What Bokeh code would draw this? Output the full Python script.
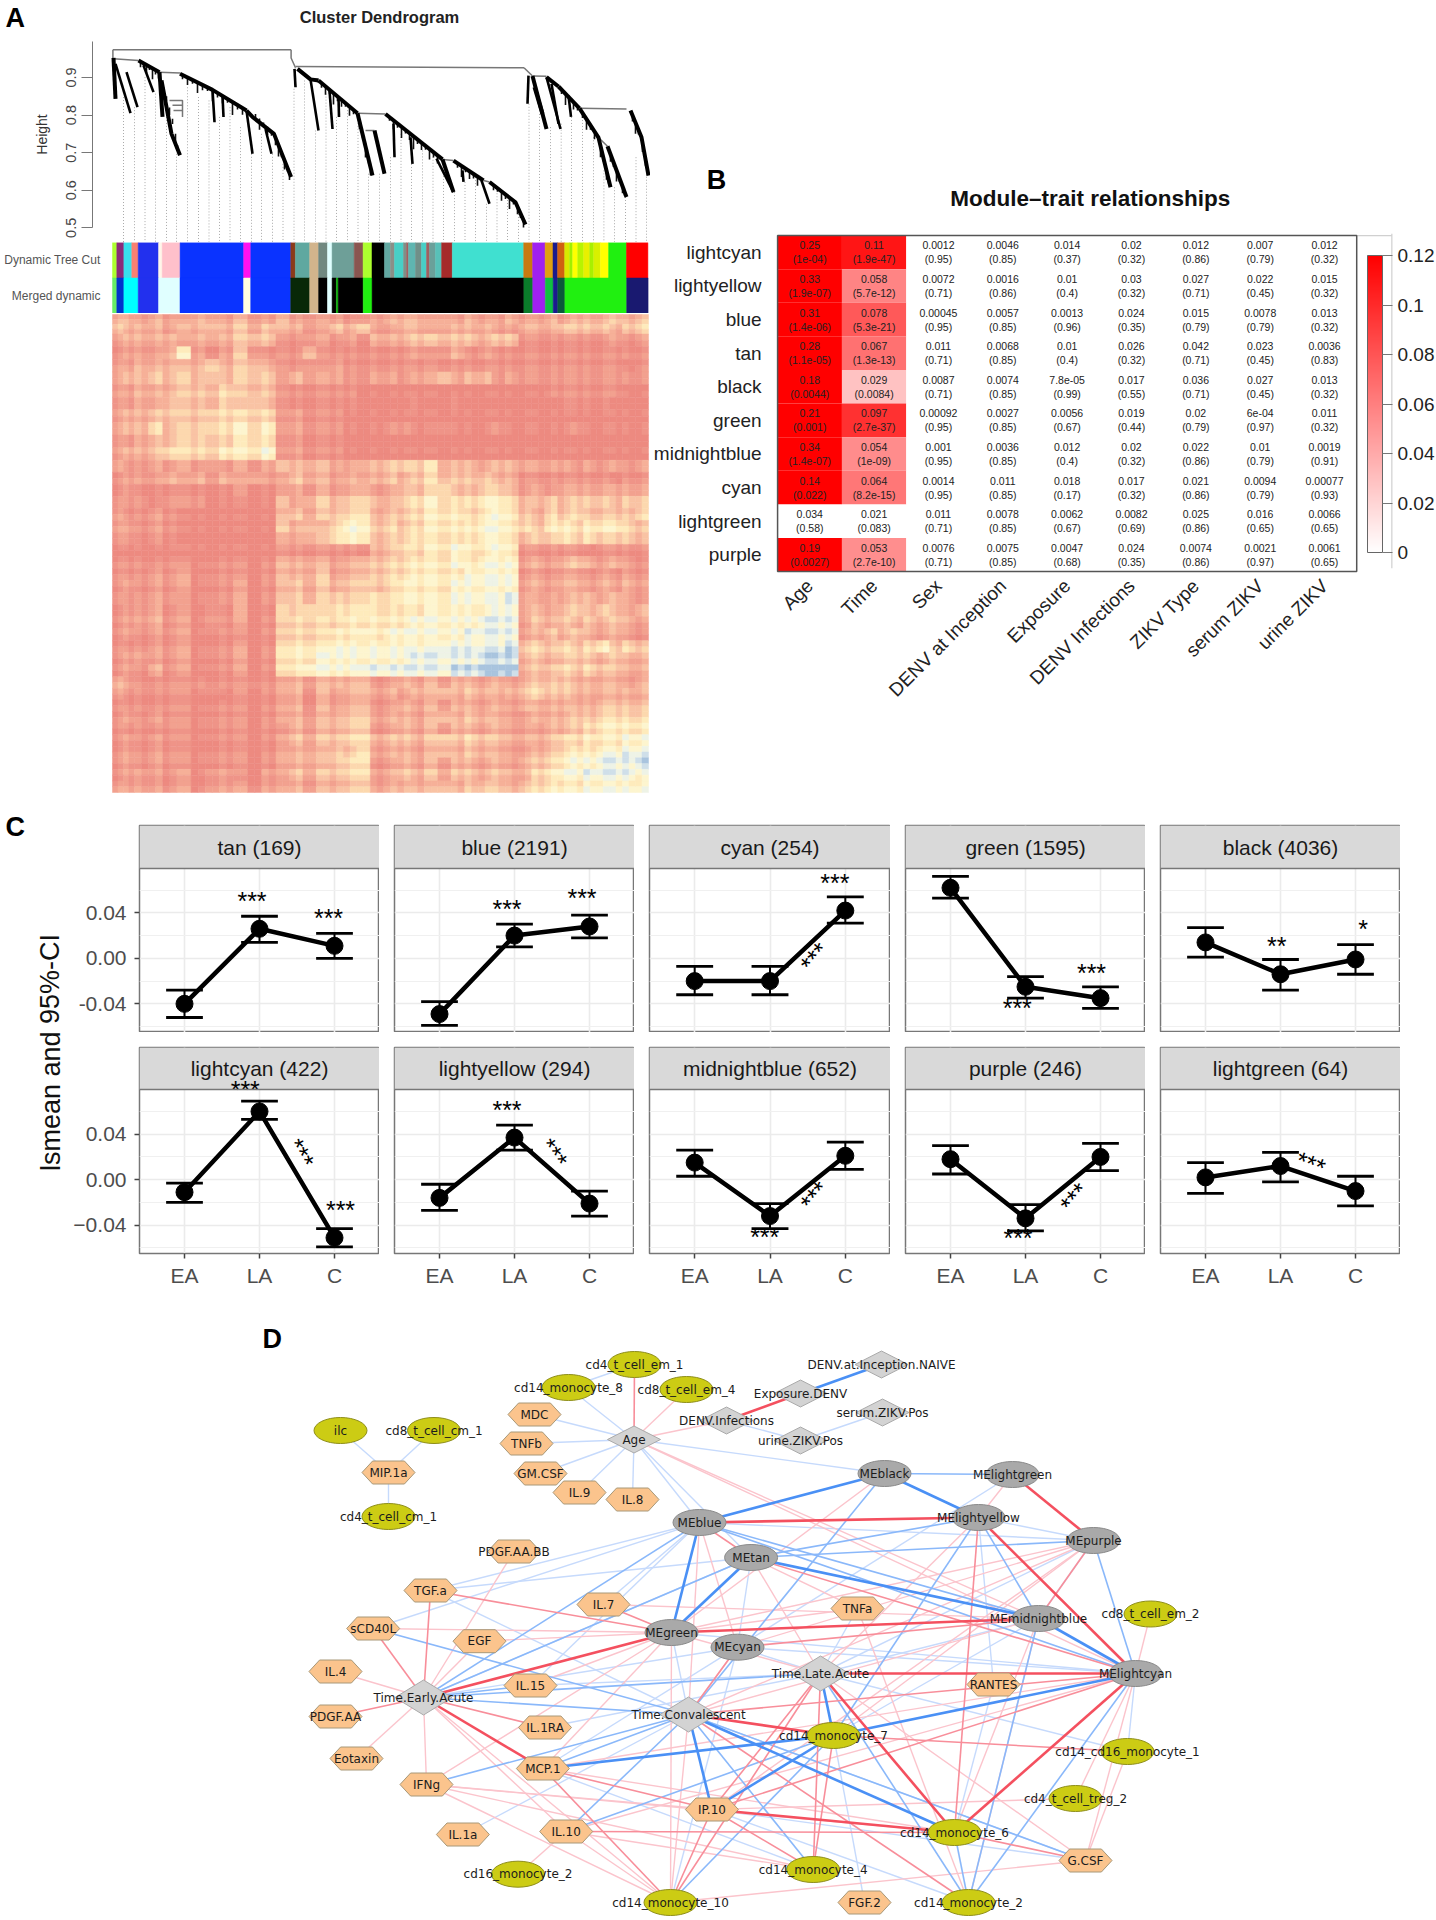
from math import radians, sin, cos
from bokeh.plotting import figure
from bokeh.layouts import column, row
from bokeh.embed import file_html
from bokeh.resources import INLINE
from bokeh.core.properties import value
from bokeh.models import (ColorBar, FixedTicker, LinearColorMapper, Range1d, Span, ColumnDataSource)
from bokeh.transform import transform

HELV = value("Liberation Sans")

# ---------------------------- A: dendrogram data (leaf position, height)
tree_thick_x = [
    [1, 3], [26, 47], [47, 50], [49, 59, 67.5], [67.5, 100, 134], [134, 140, 161.5, 178.6],
    [185, 198, 206], [206, 245], [245, 260], [262, 272], [273, 330], [341, 371], [377, 403, 413],
    [330, 341], [420, 434], [446, 467], [467, 486, 498], [495, 514], [518, 529, 536],
    [434, 446], [422, 430],
]
tree_thick_y = [
    [0.952, 0.843], [0.945, 0.914], [0.914, 0.795], [0.892, 0.750, 0.693], [0.910, 0.867, 0.812],
    [0.812, 0.795, 0.750, 0.635], [0.923, 0.895, 0.892], [0.892, 0.805], [0.805, 0.639], [0.759, 0.644],
    [0.803, 0.682], [0.679, 0.626], [0.622, 0.568, 0.509], [0.682, 0.595], [0.904, 0.763], [0.876, 0.818],
    [0.818, 0.740, 0.608], [0.717, 0.582], [0.812, 0.741, 0.639], [0.901, 0.876], [0.874, 0.803],
]
tree_side_x = [
    [3, 18], [14, 25], [31, 41], [100, 102], [110, 111], [134, 140], [153, 159], [182, 183], [217, 220],
    [226, 226.5], [281, 282], [298, 300], [324, 341], [350, 351], [369, 377], [416, 415], [434, 448],
    [456, 458.5], [198, 206], [439, 446],
]
tree_side_y = [
    [0.936, 0.805], [0.914, 0.821], [0.932, 0.861], [0.867, 0.781], [0.852, 0.795], [0.812, 0.697], [0.763, 0.697],
    [0.923, 0.874], [0.865, 0.763], [0.848, 0.795], [0.777, 0.688], [0.741, 0.670], [0.684, 0.595], [0.653, 0.622],
    [0.626, 0.564], [0.905, 0.830], [0.901, 0.763], [0.852, 0.795], [0.895, 0.759], [0.883, 0.777],
]
tree_link_x = [
    [0.4, 178.6], [0.4, 0.4, 1], [178.6, 178.6, 183], [183, 411.5], [411.5, 420], [1, 26], [47, 67.5], [57, 70, 70],
    [60, 70], [61, 70], [198, 206], [245, 273], [253, 262], [330, 341], [371, 377], [420, 434], [467, 514], [486, 495],
]
tree_link_y = [
    [0.974, 0.974], [0.974, 0.952, 0.952], [0.974, 0.952, 0.926], [0.929, 0.926], [0.926, 0.904], [0.950, 0.945],
    [0.914, 0.912], [0.839, 0.839, 0.795], [0.826, 0.826], [0.812, 0.812], [0.895, 0.895], [0.805, 0.803],
    [0.759, 0.759], [0.682, 0.679], [0.626, 0.622], [0.904, 0.903], [0.818, 0.816], [0.740, 0.717],
]
twig_x = [28, 31, 34, 37, 40, 43, 46, 51, 54, 57, 60, 63, 65, 70, 75, 80, 85, 90, 95, 100, 105, 110, 115, 120, 125, 130,
          143, 147, 151, 155, 159, 163, 166, 169, 172, 175, 177, 209, 213, 217, 221, 225, 229, 233, 237, 241, 247, 250,
          253, 256, 258, 277, 281, 285, 289, 293, 297, 301, 305, 309, 313, 317, 321, 325, 345, 349, 353, 357, 361, 365,
          381, 385, 389, 393, 397, 401, 405, 408, 411, 449, 453, 457, 461, 465, 470, 474, 478, 482, 488, 491, 494, 496,
          498, 501, 504, 507, 510, 512, 520, 523, 526, 530, 533]
twig_top = [.942, .938, .934, .93, .925, .92, .915, .875, .85, .82, .79, .75, .72, .907, .9, .893, .887, .88, .874, .867,
            .859, .851, .843, .835, .827, .819, .803, .791, .78, .769, .757, .74, .72, .70, .68, .66, .645, .885, .876,
            .867, .858, .849, .84, .832, .823, .814, .783, .75, .717, .683, .66, .795, .786, .778, .769, .761, .752,
            .744, .735, .727, .718, .71, .701, .693, .672, .665, .658, .65, .643, .636, .614, .606, .597, .589, .58,
            .572, .556, .538, .521, .868, .857, .846, .835, .824, .806, .789, .773, .756, .718, .685, .652, .63, .696,
            .674, .653, .632, .61, .596, .799, .78, .76, .727, .683]
twig_len = [.015, .008, .022, .01, .03, .012, .018, .03, .012, .02, .014, .026, .01, .012, .02, .01, .028, .014, .01, .03,
            .012, .02, .01, .035, .012, .018, .014, .03, .01, .022, .012, .02, .03, .012, .025, .01, .018, .012, .022,
            .01, .03, .012, .018, .01, .025, .012, .02, .01, .03, .012, .02, .01, .024, .012, .03, .01, .018, .035, .012,
            .02, .01, .028, .014, .022, .012, .03, .01, .02, .012, .024, .014, .01, .025, .012, .03, .01, .02, .012, .02,
            .012, .03, .01, .02, .012, .014, .028, .012, .02, .03, .01, .024, .012, .02, .012, .03, .01, .018, .01, .016,
            .03, .012, .025, .018]
guide_x = [11, 22, 32.5, 43, 54, 64, 75, 86, 96.5, 107, 117.5, 128, 139, 149, 160, 170.5, 181.5, 192, 203, 213.5,
           224, 235, 245.5, 256, 267, 278, 288.5, 299, 310, 320.5, 331, 342, 352.5, 363, 374, 384.5, 395, 406, 416.5,
           427, 438, 448.7, 459, 470, 481, 491.4, 502, 513, 523.5, 534]
guide_top = [.848, .821, .901, .857, .795, .697, .874, .848, .839, .795, .821, .768, .697, .75, .697, .67, .87, .892,
             .759, .857, .795, .821, .803, .644, .644, .688, .75, .67, .706, .697, .662, .595, .622, .635, .564, .6,
             .582, .537, .83, .803, .768, .777, .795, .795, .741, .653, .608, .582, .688, .644]
height_ticks = [0.5, 0.6, 0.7, 0.8, 0.9]

dynamic_widths = [4.3, 7.1, 7.9, 6.4, 20.4, 3.6, 17.9, 63.6, 7.1, 40, 4.6, 14.3, 8.9, 8.9, 4.6, 22.1, 8.9, 8.9, 12.5,
                  6, 4, 9, 3, 2, 7, 6, 5, 3, 6, 6.1, 10.7, 71.4, 8.9, 12.5, 7.9, 4.6, 7.1,
                  5, 3, 5, 6, 6, 4, 6.7, 8.2, 17.9, 21.4]
dynamic_colors = ["#adff2f", "#8b2a7a", "#38e0ee", "#fa8072", "#2230ee", "#fff6ea", "#ffc0cb", "#0a33ff", "#ff10f0",
                  "#0a33ff", "#8b3a1a", "#5fa8a0", "#d2b48c", "#708880", "#e0ffff", "#6e9f98", "#8a5550", "#adff2f",
                  "#000000", "#62a8a2", "#8a8f88", "#48cfc6", "#7f8f88", "#a06060", "#5fb5b0", "#708f88", "#48cfc6",
                  "#a06060", "#6aa09a", "#58c0b8", "#a52a2a", "#40e0d0", "#c87a10", "#a020f0", "#e0a010", "#1a1a8c",
                  "#d06010", "#d8e800", "#a0f000", "#ffff00", "#b8f400", "#e8f000", "#a8f000", "#d8f000", "#ffff00",
                  "#20f010", "#ff0000"]
merged_widths = [4.3, 7.1, 14.3, 20.4, 21.4, 63.6, 7.1, 40, 19, 8.9, 8.9, 4.6, 4.3, 1.8, 25, 8.9, 151.8, 8.9, 12.5,
                 7.9, 4.6, 7.1, 61.8, 21.4]
merged_colors = ["#66ee66", "#0033cc", "#00ffff", "#2230ee", "#e0ffff", "#0a33ff", "#ffffe0", "#0a33ff", "#082808",
                 "#d2b48c", "#000000", "#e0ffff", "#000000", "#10c010", "#000000", "#20f010", "#000000", "#0a7a2a",
                 "#a020f0", "#10c040", "#1a1a8c", "#0a5a3a", "#20f010", "#191970"]

tom_levels = """
33 2322332322 3222212 23332323223 2232333434
43 3323343434 3322435 22332333322 3334444345
23 3332333444 1122121 33344444344 1111111212
12 2236212421 1141111 11121231211 1111111111
22 3333353443 1121211 11111111111 1111111101
23 3434343444 1322211 22122423312 1111111111
22 3334445444 1111110 00000000000 0011111100
22 3344445454 1111110 00010010000 0001111000
23 3444455555 1211100 00000000000 0000000000
23 3534455656 1211100 01100100010 0000100000
22 3445555666 1211100 00000000000 0000000000
23 3455556667 1211100 00000000000 0000000000
21 1212121212 3333223 34445333233 2222121212
12 2232323232 2433233 34345444433 1111111011
12 1111111211 2323234 23445644554 2323333333
11 1011100000 3234345 33456555665 3343444344
21 1210000000 3434456 34456665676 4354544445
22 1210000000 4343577 45456666776 5466566654
22 1210000000 3344677 45566666776 4556565554
00 0000000000 1111111 34556676676 1111101111
11 1111011101 3333234 45566676777 2323432321
11 1212011101 3334234 45566667777 1212212121
12 1212011201 3434345 45666677777 2323323232
11 1211011201 3434445 55666677778 2222332321
12 2312021301 5565667 66667777788 3434545434
12 2312021201 4555566 66677777888 2434343432
12 1212011101 4555667 67777778888 2343432321
11 1212011201 5666777 77777888889 4545456454
12 2212011201 5667777 77788888999 3434443433
12 1312011201 5677778 88888899aaa 3445454433
32 1111111111 2323334 12323233232 3444333323
21 1111010101 2313234 23233434333 4544333333
11 1111011101 2313234 12323233232 3333334444
12 1211011101 2323345 23323434332 2333445555
11 1111011101 1323345 12323233232 2233456666
12 1211011101 2434456 34434545443 3345566677
12 1211011101 2333446 23323434332 2345667788
12 1211011101 2333456 12323233232 3456778889
12 2212022102 2434456 23434344343 3567788887
22 2212022212 2323345 23333434443 4566677777
"""
tom_stripes = "0110100101 1101001011 0010110100 1101010010 0101101100 1010011010 0110010110 1001101001"
tom_palette = ["#ed8a80", "#ef9488", "#f2a18f", "#f6b098", "#f9c3a4", "#fcd8ae", "#feebbc", "#fdf5cf", "#eef3e6",
               "#cfdfe9", "#a9c4de"]

# ---------------------------- B: module-trait table
modules = ["lightcyan", "lightyellow", "blue", "tan", "black", "green", "midnightblue", "cyan", "lightgreen", "purple"]
traits = ["Age", "Time", "Sex", "DENV at Inception", "Exposure", "DENV Infections", "ZIKV Type", "serum ZIKV", "urine ZIKV"]
cell_values = [
    ["0.25", "0.33", "0.31", "0.28", "0.18", "0.21", "0.34", "0.14", "0.034", "0.19"],
    ["0.11", "0.058", "0.078", "0.067", "0.029", "0.097", "0.054", "0.064", "0.021", "0.053"],
    ["0.0012", "0.0072", "0.00045", "0.011", "0.0087", "0.00092", "0.001", "0.0014", "0.011", "0.0076"],
    ["0.0046", "0.0016", "0.0057", "0.0068", "0.0074", "0.0027", "0.0036", "0.011", "0.0078", "0.0075"],
    ["0.014", "0.01", "0.0013", "0.01", "7.8e-05", "0.0056", "0.012", "0.018", "0.0062", "0.0047"],
    ["0.02", "0.03", "0.024", "0.026", "0.017", "0.019", "0.02", "0.017", "0.0082", "0.024"],
    ["0.012", "0.027", "0.015", "0.042", "0.036", "0.02", "0.022", "0.021", "0.025", "0.0074"],
    ["0.007", "0.022", "0.0078", "0.023", "0.027", "6e-04", "0.01", "0.0094", "0.016", "0.0021"],
    ["0.012", "0.015", "0.013", "0.0036", "0.013", "0.011", "0.0019", "0.00077", "0.0066", "0.0061"],
]
cell_pvalues = [
    ["1e-04", "1.9e-07", "1.4e-06", "1.1e-05", "0.0044", "0.001", "1.4e-07", "0.022", "0.58", "0.0027"],
    ["1.9e-47", "5.7e-12", "5.3e-21", "1.3e-13", "0.0084", "2.7e-37", "1e-09", "8.2e-15", "0.083", "2.7e-10"],
    ["0.95", "0.71", "0.95", "0.71", "0.71", "0.95", "0.95", "0.95", "0.71", "0.71"],
    ["0.85", "0.86", "0.85", "0.85", "0.85", "0.85", "0.85", "0.85", "0.85", "0.85"],
    ["0.37", "0.4", "0.96", "0.4", "0.99", "0.67", "0.4", "0.17", "0.67", "0.68"],
    ["0.32", "0.32", "0.35", "0.32", "0.55", "0.44", "0.32", "0.32", "0.69", "0.35"],
    ["0.86", "0.71", "0.79", "0.71", "0.71", "0.79", "0.86", "0.86", "0.86", "0.86"],
    ["0.79", "0.45", "0.79", "0.45", "0.45", "0.97", "0.79", "0.79", "0.65", "0.97"],
    ["0.32", "0.32", "0.32", "0.83", "0.32", "0.32", "0.91", "0.93", "0.65", "0.65"],
]
colorbar_ticks = [0, 0.02, 0.04, 0.06, 0.08, 0.1, 0.12]

# ---------------------------- C: lsmeans
facet_titles = ["tan (169)", "blue (2191)", "cyan (254)", "green (1595)", "black (4036)",
                "lightcyan (422)", "lightyellow (294)", "midnightblue (652)", "purple (246)", "lightgreen (64)"]
time_labels = ["EA", "LA", "C"]
lsmean = [[-.040, .026, .011], [-.049, .020, .028], [-.020, -.020, .042], [.062, -.025, -.035], [.014, -.014, -.001],
          [-.011, .060, -.051], [-.016, .037, -.021], [.015, -.032, .021], [.018, -.034, .020], [.002, .012, -.010]]
ci_low = [[-.052, .014, .000], [-.059, .010, .018], [-.032, -.032, .031], [.053, -.035, -.044], [.001, -.028, -.014],
          [-.020, .053, -.059], [-.027, .026, -.032], [.003, -.043, .009], [.005, -.045, .008], [-.012, -.002, -.023]]
ci_high = [[-.028, .037, .022], [-.038, .030, .038], [-.007, -.007, .054], [.072, -.016, -.025], [.027, -.001, .012],
           [-.003, .069, -.043], [-.004, .048, -.010], [.026, -.021, .033], [.030, -.022, .032], [.015, .024, .003]]
star_panel = [0, 0, 1, 1, 2, 2, 3, 3, 4, 4, 5, 5, 5, 6, 6, 7, 7, 8, 8, 9]
star_text = ["***", "***", "***", "***", "***", "***", "***", "***", "**", "*", "***", "***", "***", "***", "***",
             "***", "***", "***", "***", "***"]
star_x = [1.9, 2.92, 1.9, 2.9, 2.86, 2.53, 1.89, 2.88, 1.95, 3.1, 1.81, 2.62, 3.08, 1.9, 2.59, 1.93, 2.53, 1.9, 2.59, 2.43]
star_y = [.0557, .0404, .0487, .058, .0718, .0044, -.0381, -.0073, .0161, .0314, .0844, .0258, -.0217, .0662, .0264,
          -.0448, -.0108, -.046, -.0123, .019]
star_angle = [0, 0, 0, 0, 0, 50, 0, 0, 0, 0, 0, -60, 0, 0, -55, 0, 50, 0, 50, -20]

# ---------------------------- D: network nodes and edges
hex_nodes = {"MDC": (534, 1414), "TNFb": (526, 1443), "GM.CSF": (540, 1473), "IL.9": (579, 1492), "IL.8": (632, 1499),
             "MIP.1a": (388, 1472), "PDGF.AA.BB": (513.5, 1551), "TGF.a": (430, 1590), "IL.7": (603, 1604),
             "TNFa": (857, 1608), "sCD40L": (372.7, 1628), "EGF": (479, 1640.7), "IL.4": (335, 1671),
             "IL.15": (530, 1685), "PDGF.AA": (335, 1716), "IL.1RA": (544.5, 1727), "Eotaxin": (356, 1758),
             "MCP.1": (542.4, 1768), "IFNg": (426, 1784), "IL.1a": (462.4, 1834), "IL.10": (565.7, 1831),
             "IP.10": (711.4, 1809), "RANTES": (993, 1684), "G.CSF": (1085, 1860), "FGF.2": (864, 1902)}
cell_nodes = {"cd4_t_cell_em_1": (634, 1364), "cd14_monocyte_8": (568, 1387), "cd8_t_cell_em_4": (686, 1389),
              "ilc": (340, 1430), "cd8_t_cell_cm_1": (433.5, 1430), "cd4_t_cell_cm_1": (388, 1516),
              "cd8_t_cell_em_2": (1150, 1613.5), "cd14_monocyte_7": (833, 1735), "cd14_cd16_monocyte_1": (1127, 1751),
              "cd4_t_cell_treg_2": (1075, 1798), "cd14_monocyte_6": (954, 1832), "cd14_monocyte_4": (812.7, 1869),
              "cd14_monocyte_2": (968, 1902), "cd16_monocyte_2": (517.5, 1873.7), "cd14_monocyte_10": (670, 1902)}
module_nodes = {"MEblack": (884, 1473), "MElightgreen": (1012, 1474), "MElightyellow": (978, 1517),
                "MEpurple": (1093, 1540), "MEblue": (699, 1522), "MEtan": (750.6, 1557),
                "MEmidnightblue": (1038, 1618), "MElightcyan": (1135, 1673), "MEgreen": (671, 1632), "MEcyan": (737, 1646.7)}
trait_nodes = {"Age": (633.5, 1439), "DENV.Infections": (726, 1420), "Exposure.DENV": (800, 1393),
               "urine.ZIKV.Pos": (800, 1440), "DENV.at.Inception.NAIVE": (881, 1364), "serum.ZIKV.Pos": (882, 1412)}
time_nodes = {"Time.Early.Acute": (423, 1697), "Time.Late.Acute": (820, 1673), "Time.Convalescent": (688, 1714)}

blue_edges = {
    1: "cd14_monocyte_8|cd4_t_cell_em_1 cd14_monocyte_8|Age MDC|Age TNFb|Age GM.CSF|Age IL.9|Age IL.8|Age "
       "DENV.Infections|urine.ZIKV.Pos urine.ZIKV.Pos|serum.ZIKV.Pos ilc|MIP.1a cd8_t_cell_cm_1|MIP.1a MIP.1a|cd4_t_cell_cm_1 "
       "Age|MEblue Age|MEblack Age|MEtan MEblue|TGF.a MEblue|sCD40L MEblue|MEpurple MEblue|IL.7 MEblue|IL.15 "
       "MEtan|TGF.a MEtan|MEcyan MEtan|Time.Early.Acute MElightgreen|MEcyan MElightyellow|MEpurple MElightyellow|RANTES "
       "MEpurple|Time.Late.Acute MEpurple|MEmidnightblue MEmidnightblue|Time.Late.Acute MEmidnightblue|cd14_monocyte_7 "
       "MElightcyan|MEgreen MElightcyan|MEcyan MElightcyan|cd14_cd16_monocyte_1 Time.Late.Acute|MEcyan "
       "Time.Late.Acute|cd14_cd16_monocyte_1 Time.Late.Acute|IL.15 Time.Late.Acute|IL.1RA Time.Convalescent|MEgreen "
       "Time.Convalescent|G.CSF Time.Early.Acute|MEcyan MEcyan|MCP.1 MEcyan|cd14_monocyte_10 MCP.1|cd14_monocyte_4 "
       "IP.10|cd14_monocyte_2 IP.10|G.CSF cd14_monocyte_7|FGF.2 RANTES|cd14_monocyte_6 TGF.a|Time.Convalescent "
       "IL.1a|Time.Convalescent TNFa|Time.Late.Acute",
    2: "MEblue|Time.Early.Acute MEblue|MEmidnightblue MEblue|MElightcyan MEtan|MElightyellow MEtan|MEpurple "
       "MEblack|MElightgreen MEblack|Time.Convalescent MElightyellow|MEmidnightblue MElightyellow|cd14_monocyte_7 "
       "MEpurple|MElightcyan MEmidnightblue|cd14_monocyte_2 MElightcyan|cd14_monocyte_2 Time.Late.Acute|cd14_monocyte_2 "
       "Time.Late.Acute|Time.Early.Acute Time.Convalescent|MCP.1 Time.Convalescent|IFNg Time.Convalescent|IL.10 "
       "Time.Convalescent|cd14_monocyte_4 Time.Convalescent|sCD40L Time.Convalescent|Time.Early.Acute IL.15|Time.Early.Acute "
       "MEtan|Time.Early.Acute IL.10|cd14_monocyte_7 cd14_monocyte_6|cd14_monocyte_2 cd14_monocyte_7|cd14_monocyte_10 "
       "Time.Convalescent|G.CSF",
    3: "Exposure.DENV|DENV.at.Inception.NAIVE MEblue|MEblack MEblue|MEgreen MEtan|MEgreen MEtan|MEmidnightblue "
       "MEblack|MElightyellow MEmidnightblue|MElightcyan MElightcyan|cd14_monocyte_7 Time.Late.Acute|cd14_monocyte_7 "
       "Time.Convalescent|IP.10 Time.Convalescent|cd14_monocyte_6 MCP.1|cd14_monocyte_7 IP.10|cd14_monocyte_7",
}
red_edges = {
    1: "cd8_t_cell_em_4|Age Age|DENV.Infections Age|MEmidnightblue Age|MElightcyan MEblue|MEcyan MEblue|Time.Convalescent "
       "MEtan|Time.Late.Acute MEtan|TNFa MEblack|MEgreen MElightgreen|MElightyellow MElightyellow|Time.Late.Acute "
       "MEpurple|cd14_monocyte_7 MEpurple|Time.Convalescent MEpurple|IP.10 MEpurple|MEgreen MEmidnightblue|cd14_monocyte_6 "
       "MEmidnightblue|Time.Convalescent MEmidnightblue|IL.7 MEmidnightblue|cd14_monocyte_2 cd8_t_cell_em_2|MElightcyan "
       "MElightcyan|cd4_t_cell_treg_2 MElightcyan|G.CSF MElightcyan|MCP.1 MElightcyan|IL.10 Time.Late.Acute|G.CSF "
       "Time.Late.Acute|MEgreen Time.Convalescent|cd14_monocyte_10 Time.Convalescent|MEcyan Time.Early.Acute|IL.4 "
       "Time.Early.Acute|Eotaxin Time.Early.Acute|IFNg Time.Early.Acute|IL.10 Time.Early.Acute|cd14_monocyte_10 "
       "Time.Early.Acute|PDGF.AA.BB Time.Early.Acute|EGF MEgreen|sCD40L MEgreen|MCP.1 MEgreen|IFNg MEgreen|cd14_monocyte_10 "
       "MEgreen|EGF MEgreen|IL.15 MEcyan|MEpurple MCP.1|cd14_monocyte_6 IFNg|IP.10 IFNg|cd14_monocyte_6 IFNg|cd14_monocyte_10 "
       "IFNg|cd14_monocyte_4 IL.10|cd14_monocyte_4 IL.10|cd14_monocyte_10 IL.10|cd16_monocyte_2 cd14_monocyte_10|G.CSF "
       "TNFa|MEgreen TNFa|cd14_monocyte_2 cd4_t_cell_treg_2|IP.10 G.CSF|cd14_cd16_monocyte_1",
    2: "cd4_t_cell_em_1|Age MEblue|MEtan MEtan|MElightcyan MElightyellow|cd14_monocyte_6 MEpurple|MEmidnightblue "
       "MEcyan|MEmidnightblue MElightcyan|Time.Convalescent MElightcyan|IP.10 Time.Late.Acute|IP.10 Time.Late.Acute|cd14_monocyte_10 "
       "Time.Late.Acute|cd14_monocyte_4 Time.Convalescent|cd14_monocyte_2 Time.Early.Acute|sCD40L Time.Early.Acute|TGF.a "
       "Time.Early.Acute|PDGF.AA Time.Early.Acute|IL.1RA MEgreen|TGF.a MEgreen|IL.7 MEcyan|Time.Convalescent MCP.1|IP.10 "
       "MCP.1|cd14_monocyte_10 IL.10|cd14_monocyte_6 IP.10|cd14_monocyte_10 IP.10|cd14_monocyte_4 cd14_monocyte_7|cd14_monocyte_4 "
       "cd14_monocyte_6|G.CSF cd14_cd16_monocyte_1|cd14_monocyte_7",
    3: "DENV.Infections|Exposure.DENV MEblue|MElightyellow MElightgreen|MEpurple MElightyellow|MElightcyan MEmidnightblue|MEgreen "
       "MElightcyan|Time.Late.Acute MElightcyan|cd14_monocyte_6 Time.Late.Acute|cd14_monocyte_6 Time.Convalescent|cd14_monocyte_7 "
       "Time.Early.Acute|MCP.1 Time.Early.Acute|MEgreen IP.10|cd14_monocyte_6",
}
edge_colors = {"blue": {1: "#c6dafc", 2: "#8ab8fa", 3: "#4a90f5"}, "red": {1: "#fbc4cc", 2: "#f88e9a", 3: "#f4505f"}}
edge_widths = {1: 1.4, 2: 1.6, 3: 2.6}


def fig(fw, fh, x_range, y_range, left=0, right=0, top=0, bottom=0):
    p = figure(frame_width=fw, frame_height=fh, x_range=x_range, y_range=y_range, toolbar_location=None,
               output_backend="svg", tools="", min_border_left=left, min_border_right=right, min_border_top=top,
               min_border_bottom=bottom)
    p.outline_line_color = None
    p.grid.visible = False
    return p


def letter(p, text, x, y):
    p.text([x], [y], text=[text], text_font=HELV, text_font_style="bold", text_font_size="27px", text_align="left",
           text_baseline="middle", text_color="#000000")


# ---------------------------- Panel A
dendro = fig(650, 242, Range1d(-112, 538), Range1d(0.461, 1.1048))
dendro.xaxis.visible = False
ax = dendro.yaxis[0]
ax.fixed_location = -20
ax.ticker = FixedTicker(ticks=height_ticks)
ax.bounds = (0.5, 0.995)
ax.major_label_orientation = "vertical"
ax.major_label_text_font = "Liberation Sans"
ax.major_label_text_font_size = "14.5px"
ax.major_label_text_color = "#444444"
ax.major_tick_out = 11
ax.major_tick_in = 0
ax.minor_tick_out = 0
ax.minor_tick_in = 0
ax.axis_line_color = "#777777"
ax.major_tick_line_color = "#777777"
ax.axis_label = "Height"
ax.axis_label_text_font = "Liberation Sans"
ax.axis_label_text_font_style = "normal"
ax.axis_label_text_font_size = "14px"
ax.axis_label_text_color = "#333333"
ax.axis_label_standoff = 14
dendro.segment(guide_x, guide_top, guide_x, [0.461] * len(guide_x), line_color="#aaaaaa", line_width=1, line_dash="1 2")
dendro.multi_line(tree_link_x, tree_link_y, line_color="#777777", line_width=1.5)
dendro.segment(twig_x, twig_top, twig_x, [t - l for t, l in zip(twig_top, twig_len)], line_color="#111111", line_width=1.6)
dendro.multi_line(tree_side_x, tree_side_y, line_color="#000000", line_width=2.6)
dendro.multi_line(tree_thick_x, tree_thick_y, line_color="#000000", line_width=4)
letter(dendro, "A", -107, 1.057)
dendro.text([267], [1.06], text=["Cluster Dendrogram"], text_font=HELV, text_font_style="bold", text_font_size="16.5px",
            text_align="center", text_baseline="middle", text_color="#222222")

bands = fig(650, 71, Range1d(-112, 538), Range1d(0, 2))
bands.axis.visible = False
for widths, colors, y0 in ((dynamic_widths, dynamic_colors, 1), (merged_widths, merged_colors, 0)):
    edges = [0.0]
    for w in widths:
        edges.append(edges[-1] + w)
    bands.quad(left=edges[:-1], right=edges[1:], bottom=[y0] * len(widths), top=[y0 + 1] * len(widths),
               fill_color=colors, line_color=colors, line_width=0.5)
bands.text([-12, -12], [1.5, 0.5], text=["Dynamic Tree Cut", "Merged dynamic"], text_font=HELV, text_font_size="12px",
           text_align="right", text_baseline="middle", text_color="#555555")

tom_rows = [r.replace(" ", "") for r in tom_levels.strip().splitlines()]
stripes = [int(c) for c in tom_stripes.replace(" ", "")]
block_edges = [0, .041, .305, .481, .758, 1]
block_cells = [4, 20, 14, 22, 20]
cell_edges = [0.0]
for i, n in enumerate(block_cells):
    for k in range(n):
        cell_edges.append(block_edges[i] + (block_edges[i + 1] - block_edges[i]) * (k + 1) / n)
tl, tr, tt, tb, tc = [], [], [], [], []
for ri in range(80):
    for ci in range(80):
        level = int(tom_rows[ri // 2][ci // 2], 16) - 1 + stripes[ri] + stripes[ci]
        tl.append(cell_edges[ci] * 536)
        tr.append(cell_edges[ci + 1] * 536)
        tt.append(cell_edges[ri])
        tb.append(cell_edges[ri + 1])
        tc.append(tom_palette[max(0, min(10, level))])
tom = fig(650, 492, Range1d(-112, 538), Range1d(1.0272, -0.0021))
tom.axis.visible = False
tom.quad(left=tl, right=tr, top=tt, bottom=tb, fill_color=tc, line_color=tc, line_width=0.5)
panel_a = column(dendro, bands, tom, spacing=0)

# ---------------------------- Panel B
ramp = ["#ff%02x%02x" % (255 - i, 255 - i) for i in range(256)]
mapper = LinearColorMapper(palette=ramp, low=0, high=0.12)
rx, ry, rv, rp, rc = [], [], [], [], []
for ti, (vals, ps) in enumerate(zip(cell_values, cell_pvalues)):
    for mi, (v, pv) in enumerate(zip(vals, ps)):
        rx.append(ti + 0.5)
        ry.append(mi + 0.5)
        rv.append(v)
        rp.append("(" + pv + ")")
        rc.append(float(v) if float(pv) < 0.05 else 0.0)
src = ColumnDataSource(dict(x=rx, y=ry, v=rv, p=rp, c=rc))
heat = fig(786, 805, Range1d(-1.975, 10.24), Range1d(16.96, -6.994))
heat.segment([9.546, 9], [-0.05, 0], [9.546, 9.546], [9.9, 0], line_color="#d0d0d0", line_width=1.2)
heat.rect("x", "y", width=1, height=1, source=src, fill_color=transform("c", mapper), line_color=None)
for col, off in (("v", -7), ("p", 7)):
    heat.text("x", "y", text=col, source=src, text_font=HELV, text_font_size="10.5px", text_align="center",
              text_baseline="middle", text_color="#222222", y_offset=off)
heat.quad(left=[0], right=[9], top=[0], bottom=[10], fill_color=None, line_color="#555555", line_width=1.5)
xa, ya = heat.xaxis[0], heat.yaxis[0]
xa.fixed_location = 10
ya.fixed_location = 0
xa.ticker = FixedTicker(ticks=[i + 0.5 for i in range(len(traits))])
ya.ticker = FixedTicker(ticks=[i + 0.5 for i in range(len(modules))])
xa.major_label_overrides = {i + 0.5: t for i, t in enumerate(traits)}
ya.major_label_overrides = {i + 0.5: m for i, m in enumerate(modules)}
for a in (xa, ya):
    a.axis_line_color = None
    a.major_tick_line_color = None
    a.minor_tick_line_color = None
    a.major_label_text_font = "Liberation Sans"
    a.major_label_text_font_size = "19px"
    a.major_label_text_color = "#222222"
ya.major_label_standoff = 10
xa.major_label_orientation = 0.785
xa.major_label_standoff = 5
cb = ColorBar(color_mapper=mapper, ticker=FixedTicker(ticks=colorbar_ticks), width=15, height=297, location=(717, 253),
              padding=0, margin=0, bar_line_color="#666666", major_tick_line_color="#777777", major_tick_in=0,
              major_tick_out=10, major_label_text_font="Liberation Sans", major_label_text_font_size="19px",
              major_label_text_color="#222222", label_standoff=5, background_fill_color=None, border_line_color=None,
              major_label_overrides={0: "0", 0.02: "0.02", 0.04: "0.04", 0.06: "0.06", 0.08: "0.08", 0.1: "0.1", 0.12: "0.12"})
heat.add_layout(cb, "center")
letter(heat, "B", -1.1, -1.64)
heat.text([4.86], [-1.1], text=["Module\u2013trait relationships"], text_font=HELV, text_font_style="bold",
          text_font_size="22.5px", text_align="center", text_baseline="middle", text_color="#111111")


# ---------------------------- Panel C
def facet(i, fw, fh, left, top, bottom, y0, y1, strip_y, show_y, show_x, minus):
    p = fig(fw, fh, Range1d(0.4, 3.6), Range1d(y0, y1), left=left, top=top, bottom=bottom)
    p.outline_line_color = "#777777"
    p.outline_line_width = 1.5
    p.xgrid.visible = True
    p.ygrid.visible = True
    p.xgrid.ticker = FixedTicker(ticks=[1, 2, 3])
    p.ygrid.ticker = FixedTicker(ticks=[-0.04, 0, 0.04], minor_ticks=[-0.06, -0.02, 0.02, 0.06])
    p.grid.grid_line_color = "#ebebeb"
    p.grid.grid_line_width = 1.6
    p.ygrid.minor_grid_line_color = "#f0f0f0"
    p.ygrid.minor_grid_line_width = 1.0
    p.yaxis.visible = show_y
    p.xaxis.visible = show_x
    if show_y:
        a = p.yaxis[0]
        a.ticker = FixedTicker(ticks=[-0.04, 0, 0.04])
        a.major_label_overrides = {-0.04: minus + "0.04", 0: "0.00", 0.04: "0.04"}
        a.major_label_standoff = 8
    if show_x:
        a = p.xaxis[0]
        a.ticker = FixedTicker(ticks=[1, 2, 3])
        a.major_label_overrides = dict(zip([1, 2, 3], time_labels))
    for a in list(p.yaxis if show_y else []) + list(p.xaxis if show_x else []):
        a.axis_line_color = None
        a.major_tick_line_color = "#444444"
        a.major_tick_line_width = 1.5
        a.major_tick_out = 5
        a.major_tick_in = 0
        a.minor_tick_out = 0
        a.minor_tick_in = 0
        a.major_label_text_font = "Liberation Sans"
        a.major_label_text_font_size = "21px"
        a.major_label_text_color = "#4d4d4d"
    p.quad(left=[0.4], right=[3.6], bottom=[strip_y], top=[y1], fill_color="#d9d9d9", line_color=None)
    p.add_layout(Span(location=strip_y, dimension="width", line_color="#777777", line_width=1.5))
    xs = [1, 2, 3]
    p.line(xs, lsmean[i], line_color="#000000", line_width=4.5)
    p.segment(xs, ci_low[i], xs, ci_high[i], line_color="#000000", line_width=2)
    for lim in (ci_low[i], ci_high[i]):
        p.segment([x - 0.245 for x in xs], lim, [x + 0.245 for x in xs], lim, line_color="#000000", line_width=2.8)
    p.scatter(xs, lsmean[i], size=17, fill_color="#000000", line_color="#000000")
    p.text([2], [(strip_y + y1) / 2], text=[facet_titles[i]], text_font=HELV, text_font_size="21px", text_align="center",
           text_baseline="middle", text_color="#1a1a1a")
    idx = [k for k, s in enumerate(star_panel) if s == i]
    p.text([star_x[k] for k in idx], [star_y[k] for k in idx], text=[star_text[k] for k in idx],
           angle=[radians(star_angle[k]) for k in idx], text_font=HELV, text_font_size="25px", text_align="center",
           text_baseline="middle", text_color="#000000",
           x_offset=[6 * sin(radians(star_angle[k])) for k in idx], y_offset=[6 * cos(radians(star_angle[k])) for k in idx])
    return p


widths_c = [240, 240, 241, 240, 240]
lefts_c = [69, 15, 15, 15, 15]
row1 = row(*[facet(i, widths_c[i], 207, lefts_c[i], 20, 0, -0.0652, 0.1168, 0.0789, i == 0, False, "-") for i in range(5)], spacing=0)
row2 = row(*[facet(i + 5, widths_c[i], 206, lefts_c[i], 15, 47, -0.0649, 0.1162, 0.0793, i == 0, True, "\u2212") for i in range(5)], spacing=0)
strip = fig(70, 495, Range1d(0, 70), Range1d(1300, 805))
strip.axis.visible = False
letter(strip, "C", 5, 826)
strip.text([50], [1052], text=["lsmean and 95%-CI"], angle=[radians(90)], text_font=HELV, text_font_size="27px",
           text_align="center", text_baseline="middle", text_color="#111111")
panel_c = row(strip, column(row1, row2, spacing=0), spacing=0)

# ---------------------------- Panel D
net = fig(1236, 620, Range1d(0, 1236), Range1d(1920, 1300))
net.axis.visible = False
all_nodes = {**hex_nodes, **cell_nodes, **module_nodes, **trait_nodes, **time_nodes}
for lvl in (1, 2, 3):
    for color_name, group in (("blue", blue_edges), ("red", red_edges)):
        ex, ey = [], []
        for pair in group[lvl].split():
            a, b = pair.split("|")
            ex.append([all_nodes[a][0], all_nodes[b][0]])
            ey.append([all_nodes[a][1], all_nodes[b][1]])
        net.multi_line(ex, ey, line_color=edge_colors[color_name][lvl], line_width=edge_widths[lvl])


def polys(nodes, shape, w, h):
    xs = [[n[0] + dx * w for dx, _ in shape] for n in nodes.values()]
    ys = [[n[1] + dy * h for _, dy in shape] for n in nodes.values()]
    return xs, ys


HEX = [(-.5, 0), (-.3, -.5), (.3, -.5), (.5, 0), (.3, .5), (-.3, .5)]
DIA = [(-.5, 0), (0, -.5), (.5, 0), (0, .5)]
hx, hy = polys(hex_nodes, HEX, 53, 23)
net.patches(hx, hy, fill_color="#fbc48d", line_color="#a89878", line_width=1)
for nodes, w, h in ((trait_nodes, 53, 27), (time_nodes, 57, 35)):
    dx, dy = polys(nodes, DIA, w, h)
    net.patches(dx, dy, fill_color="#d3d3d3", line_color="#aaaaaa", line_width=1)
for nodes, fc, lc in ((cell_nodes, "#cccc14", "#8e8e1a"), (module_nodes, "#a9a9a9", "#8a8a8a")):
    net.ellipse([n[0] for n in nodes.values()], [n[1] for n in nodes.values()], width=53, height=26, fill_color=fc, line_color=lc)
net.text([n[0] for n in all_nodes.values()], [n[1] for n in all_nodes.values()], text=list(all_nodes.keys()),
         text_font=value("DejaVu Sans"), text_font_size="12px", text_align="center", text_baseline="middle",
         text_color="#1c1c1c")
letter(net, "D", 262, 1338)

page = column(row(panel_a, heat, spacing=0), panel_c, net, spacing=0)
open("out.html", "w").write(file_html(page, INLINE))
